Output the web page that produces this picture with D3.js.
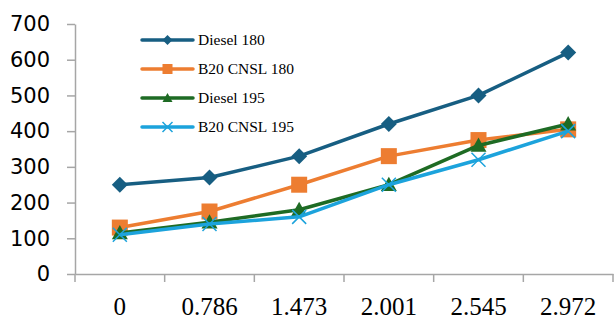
<!DOCTYPE html>
<html><head><meta charset="utf-8">
<script src="https://cdn.jsdelivr.net/npm/d3@7/dist/d3.min.js"></script>
<style>body{margin:0;background:#fff}svg{display:block}
.ser{font-family:"Liberation Serif","Times New Roman",serif}
.san{font-family:"DejaVu Sans",Arial,sans-serif}</style>
</head><body><svg id="c" width="614" height="317"></svg>
<script>
const categories = ["0","0.786","1.473","2.001","2.545","2.972"];
const seriesNames = ["Diesel 180","B20 CNSL 180","Diesel 195","B20 CNSL 195"];
const diesel180 = [250,270,330,420,500,620];
const b20cnsl180 = [130,175,250,330,375,405];
const diesel195 = [115,145,180,250,360,420];
const b20cnsl195 = [110,140,160,250,320,400];
const yTicks = [0,100,200,300,400,500,600,700];

const colors = ["#175E82","#ED7D31","#1E6B24","#1CA3DC"];
const markers = ["diamond","square","triangle","x"];
const data = [diesel180,b20cnsl180,diesel195,b20cnsl195];

const svg = d3.select("#c");
const x = d3.scaleBand().domain(categories).range([75,613]);
const y = d3.scaleLinear().domain([0,700]).range([274,24]);

// axes
const gy = svg.append("g").attr("transform","translate(75,0)")
  .call(d3.axisLeft(y).tickValues(yTicks).tickSize(8).tickSizeOuter(0).tickPadding(17));
gy.attr("font-family",null).attr("font-size",null);
gy.select(".domain").attr("stroke","#A6A6A6").attr("stroke-width",1.5);
gy.selectAll(".tick line").attr("stroke","#A6A6A6").attr("stroke-width",1.5);
gy.selectAll(".tick text").attr("class","san").style("font-size","21px").attr("fill","#000");

const gx = svg.append("g").attr("transform","translate(0,274)")
  .call(d3.axisBottom(x).tickSize(0).tickSizeOuter(0).tickPadding(23));
gx.attr("font-family",null).attr("font-size",null);
gx.select(".domain").attr("stroke","#A6A6A6").attr("stroke-width",1.5);
gx.selectAll(".tick text").attr("class","ser").style("font-size","25px").attr("fill","#000");
// band boundary ticks
const bounds = categories.map(c=>x(c)).concat([x.range()[1]]);
svg.append("g").selectAll("line").data(bounds).join("line")
  .attr("x1",d=>d).attr("x2",d=>d).attr("y1",274).attr("y2",282)
  .attr("stroke","#A6A6A6").attr("stroke-width",1.5);

function marker(g, type, color, cx, cy, s){
  if(type==="diamond"){
    g.append("path").attr("d",`M${cx},${cy-s}L${cx+s},${cy}L${cx},${cy+s}L${cx-s},${cy}Z`).attr("fill",color);
  } else if(type==="square"){
    g.append("rect").attr("x",cx-s).attr("y",cy-s).attr("width",2*s).attr("height",2*s).attr("fill",color);
  } else if(type==="triangle"){
    g.append("path").attr("d",`M${cx},${cy-s}L${cx+s},${cy+s*0.8}L${cx-s},${cy+s*0.8}Z`).attr("fill",color);
  } else {
    g.append("path").attr("d",`M${cx-s},${cy-s}L${cx+s},${cy+s}M${cx-s},${cy+s}L${cx+s},${cy-s}`)
      .attr("stroke",color).attr("stroke-width",1.5).attr("fill","none");
  }
}
const sizes = [8,8,8,7];
const line = d3.line().x((d,i)=>x(categories[i])+x.bandwidth()/2).y(d=>y(d));
data.forEach((vals,si)=>{
  const g = svg.append("g");
  g.append("path").datum(vals).attr("d",line).attr("fill","none")
    .attr("stroke",colors[si]).attr("stroke-width",3.5).attr("stroke-linejoin","round");
  vals.forEach((v,i)=>marker(g,markers[si],colors[si],x(categories[i])+x.bandwidth()/2,y(v),sizes[si]));
});

// legend
const lg = svg.append("g");
seriesNames.forEach((n,i)=>{
  const yy = 40 + i*29;
  lg.append("line").attr("x1",142).attr("x2",193).attr("y1",yy).attr("y2",yy)
    .attr("stroke",colors[i]).attr("stroke-width",3.5).attr("stroke-linecap","round");
  marker(lg,markers[i],colors[i],167.5,yy,5);
  lg.append("text").attr("x",198).attr("y",yy+5).text(n).attr("class","ser")
    .style("font-size","15.5px").attr("fill","#000");
});
</script></body></html>
